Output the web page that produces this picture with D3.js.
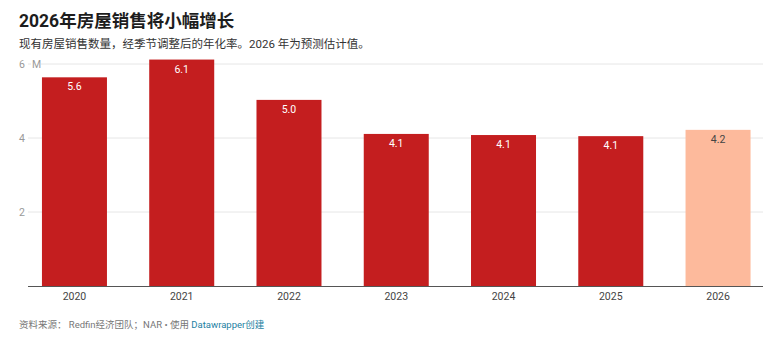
<!DOCTYPE html>
<html><head><meta charset="utf-8">
<script src="https://cdn.jsdelivr.net/npm/d3@7/dist/d3.min.js"></script>
<style>
body{margin:0;background:#fff;font-family:Roboto,"Noto Sans CJK SC",sans-serif;}
</style></head>
<body><svg id="c" width="782" height="351"></svg>
<script>
const years = ["2020","2021","2022","2023","2024","2025","2026"];
const sales = [5.64, 6.12, 5.03, 4.11, 4.08, 4.05, 4.22];
const labels = ["5.6","6.1","5.0","4.1","4.1","4.1","4.2"];
const forecast = [false,false,false,false,false,false,true];
const yTicks = [2, 4, 6];

const svg = d3.select("#c");
const font = "Roboto, 'Noto Sans CJK SC', sans-serif";

svg.append("text").attr("x",19).attr("y",27).attr("font-size",17.5).attr("font-weight",700)
  .attr("fill","#1d1d1d").attr("font-family",font).text("2026年房屋销售将小幅增长");
svg.append("text").attr("x",19).attr("y",48).attr("font-size",11.5)
  .attr("fill","#333").attr("font-family",font).text("现有房屋销售数量，经季节调整后的年化率。2026 年为预测估计值。");

const x = d3.scaleBand().domain(years).range([20.5,772]).paddingInner(0.394).paddingOuter(0.2);
const y = d3.scaleLinear().domain([0,6]).range([286,64]);

const g = svg.append("g");
g.selectAll("line.grid").data(yTicks).join("line").attr("class","grid")
  .attr("x1",28).attr("x2",763).attr("y1",d=>y(d)).attr("y2",d=>y(d))
  .attr("stroke","#e6e6e6").attr("stroke-width",1);
g.selectAll("text.yt").data(yTicks).join("text").attr("class","yt")
  .attr("x",25).attr("y",d=>y(d)+3.5).attr("text-anchor","end").attr("font-size",10.5)
  .attr("fill","#999").attr("font-family",font).text(d=>d);
g.append("rect").attr("x",31).attr("y",y(6)-7).attr("width",10).attr("height",13).attr("fill","#fff");
g.append("text").attr("x",32).attr("y",y(6)+3.5).attr("font-size",10.5).attr("fill","#999")
  .attr("font-family",font).text("M");

g.selectAll("rect.bar").data(years).join("rect").attr("class","bar")
  .attr("x",d=>x(d)).attr("width",x.bandwidth())
  .attr("y",(d,i)=>y(sales[i])).attr("height",(d,i)=>y(0)-y(sales[i]))
  .attr("fill",(d,i)=>forecast[i]?"#fdba9c":"#c41e1f");

g.selectAll("text.val").data(years).join("text").attr("class","val")
  .attr("x",d=>x(d)+x.bandwidth()/2).attr("y",(d,i)=>y(sales[i])+13)
  .attr("text-anchor","middle").attr("font-size",10.5)
  .attr("fill",(d,i)=>forecast[i]?"#444":"#fff").attr("font-family",font).text((d,i)=>labels[i]);

g.append("line").attr("x1",28).attr("x2",763).attr("y1",y(0)+0.5).attr("y2",y(0)+0.5)
  .attr("stroke","#555").attr("stroke-width",1);

g.selectAll("text.xl").data(years).join("text").attr("class","xl")
  .attr("x",d=>x(d)+x.bandwidth()/2).attr("y",300).attr("text-anchor","middle")
  .attr("font-size",10.5).attr("fill","#444").attr("font-family",font).text(d=>d);

const f = svg.append("text").attr("x",19).attr("y",328).attr("font-size",9.5).attr("font-family",font).attr("fill","#777");
f.append("tspan").text("资料来源： Redfin经济团队；NAR • 使用 ");
f.append("tspan").attr("fill","#1d81a2").text("Datawrapper创建");
</script></body></html>
